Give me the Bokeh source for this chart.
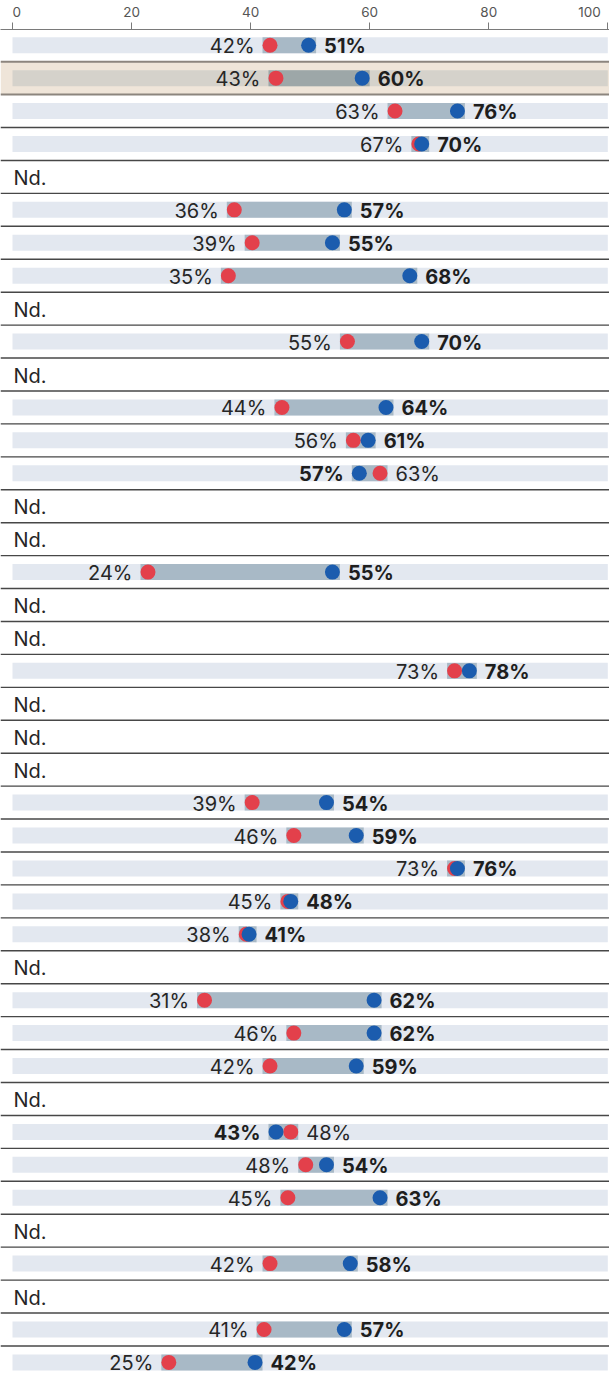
from bokeh.plotting import figure
from bokeh.models import Range1d, ColumnDataSource, BoxAnnotation, Span, FixedTicker
from bokeh.core.properties import value
from bokeh.embed import file_html
from bokeh.resources import INLINE

# ---------------- data ----------------
# None = "Nd." (no data)
red_values = [42, 43, 63, 67, None, 36, 39, 35, None, 55,
              None, 44, 56, 63, None, None, 21.5, None, None, 73,
              None, None, None, 39, 46, 73, 45, 38, None, 31,
              46, 42, None, 48, 48, 45, None, 42, None, 41,
              25]
red_labels = [42, 43, 63, 67, None, 36, 39, 35, None, 55,
              None, 44, 56, 63, None, None, 24, None, None, 73,
              None, None, None, 39, 46, 73, 45, 38, None, 31,
              46, 42, None, 48, 48, 45, None, 42, None, 41,
              25]
blue_values = [51, 60, 76, 70, None, 57, 55, 68, None, 70,
               None, 64, 61, 57, None, None, 55, None, None, 78,
               None, None, None, 54, 59, 76, 48, 41, None, 62,
               62, 59, None, 43, 54, 63, None, 58, None, 57,
               42]
blue_labels = list(blue_values)
highlight_row = 1
ticks = [0, 20, 40, 60, 80, 100]
nd_text = "Nd."

# ---------------- layout ----------------
W, H = 609, 1375
X0_PX, X100_PX = 12.0, 607.3
px_per_x = (X100_PX - X0_PX) / 100.0
x_start = -X0_PX / px_per_x
x_end = 100 + (W - X100_PX) / px_per_x

TOP = 29
ROW_H = 32.93
FIRST_CENTER = 44.7
y_end = -(FIRST_CENTER - TOP) / ROW_H
y_start = y_end + (H - TOP) / ROW_H

BAR_H = 16 / ROW_H
DOT = 15
dot_shift = (DOT / 2) / px_per_x

FONT = "Inter"
TICK_FONT = "Inter"
RED = "#e3404b"
BLUE = "#1b5cae"
BG_BAR = "#e3e8f0"
RANGE_BAR = "#a8b9c6"
HL_BG = "#efe5d9"
HL_BAR = "#d5d2cb"
HL_RANGE = "#9da7a8"

p = figure(width=W, height=H, output_backend="svg", toolbar_location=None,
           x_range=Range1d(x_start, x_end), y_range=Range1d(y_start, y_end),
           x_axis_location="above", y_axis_location=None,
           min_border_left=0, min_border_right=0, min_border_bottom=0,
           min_border_top=TOP, background_fill_color="white",
           border_fill_color="white", outline_line_color=None)
p.grid.visible = False

# highlight band
p.add_layout(BoxAnnotation(bottom=highlight_row + 0.5, top=highlight_row - 0.5,
                           fill_color=HL_BG, fill_alpha=1, line_alpha=0,
                           level="underlay"))

n = len(red_values)
rows = [i for i in range(n) if red_values[i] is not None]
nd_rows = [i for i in range(n) if red_values[i] is None]

bg = ColumnDataSource(dict(
    y=rows, left=[0] * len(rows), right=[100] * len(rows),
    color=[HL_BAR if i == highlight_row else BG_BAR for i in rows]))
p.hbar(y="y", left="left", right="right", height=BAR_H, source=bg,
       fill_color="color", line_color=None)

rng = ColumnDataSource(dict(
    y=rows,
    left=[min(red_values[i], blue_values[i]) for i in rows],
    right=[max(red_values[i], blue_values[i]) for i in rows],
    color=[HL_RANGE if i == highlight_row else RANGE_BAR for i in rows]))
p.hbar(y="y", left="left", right="right", height=BAR_H, source=rng,
       fill_color="color", line_color=None)

# dots sit inside the range bar, their outer edge on the value
red_x = [red_values[i] + (dot_shift if red_values[i] < blue_values[i] else -dot_shift) for i in rows]
blue_x = [blue_values[i] + (dot_shift if blue_values[i] < red_values[i] else -dot_shift) for i in rows]
p.scatter(x=red_x, y=rows, size=DOT, marker="circle", fill_color=RED, line_color=None)
p.scatter(x=blue_x, y=rows, size=DOT, marker="circle", fill_color=BLUE, line_color=None)

# value labels
groups = {("L", "normal"): ([], [], []), ("L", "bold"): ([], [], []),
          ("R", "normal"): ([], [], []), ("R", "bold"): ([], [], [])}
for i in rows:
    r, b = red_values[i], blue_values[i]
    rs, bs = ("L", "R") if r < b else ("R", "L")
    g = groups[(rs, "normal")]
    g[0].append(r); g[1].append(i); g[2].append(f"{red_labels[i]}%")
    g = groups[(bs, "bold")]
    g[0].append(b); g[1].append(i); g[2].append(f"{blue_labels[i]}%")

for (side, style), (xs, ys, ts) in groups.items():
    if not xs:
        continue
    p.text(x=xs, y=ys, text=ts, text_align="right" if side == "L" else "left",
           x_offset=-8 if side == "L" else 8, y_offset=1,
           text_baseline="middle", text_font=value(FONT), text_font_size="20px",
           text_font_style=style,
           text_color="#262626" if style == "normal" else "#1e1e1e")

p.text(x=[0] * len(nd_rows), y=nd_rows, text=[nd_text] * len(nd_rows),
       text_align="left", x_offset=1, y_offset=1, text_baseline="middle",
       text_font=value(FONT), text_font_size="20px", text_color="#262626")

# separators between rows
for k in range(n - 1):
    near_hl = k in (highlight_row - 1, highlight_row)
    p.add_layout(Span(location=k + 0.5, dimension="width",
                      line_color="#8c857e" if near_hl else "#474747",
                      line_width=2 if near_hl else 1.4))

# top axis; end labels padded with a figure space so they sit inward of their ticks
FS = "\u2007"
ax = p.xaxis[0]
ax.ticker = FixedTicker(ticks=ticks)
ax.major_label_overrides = {ticks[0]: FS + str(ticks[0]),
                            ticks[-1]: str(ticks[-1]) + FS}
ax.axis_line_color = "#7a7a7a"
ax.major_tick_line_color = "#7a7a7a"
ax.major_tick_out = 7
ax.major_tick_in = 0
ax.minor_tick_line_color = None
ax.major_label_text_font = TICK_FONT
ax.major_label_text_font_size = "13.5px"
ax.major_label_text_color = "#555555"
ax.major_label_standoff = 3

open("out.html", "w").write(file_html(p, INLINE))
